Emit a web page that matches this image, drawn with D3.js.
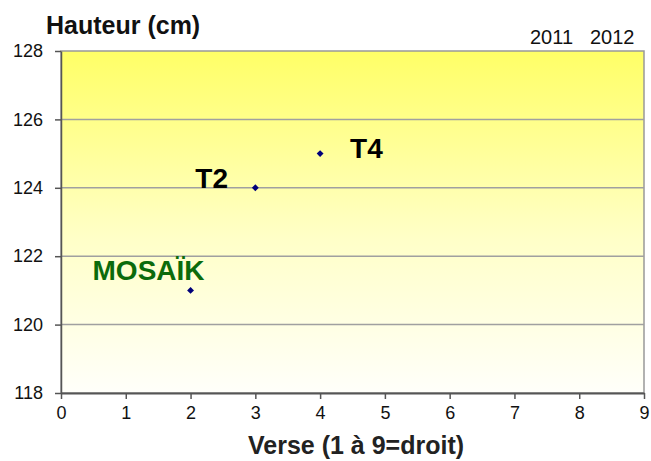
<!DOCTYPE html>
<html>
<head>
<meta charset="utf-8">
<script src="https://cdn.jsdelivr.net/npm/d3@7"></script>
<style>
  body { margin: 0; background: #fff; }
  text { font-family: "Liberation Sans", Arial, sans-serif; }
</style>
</head>
<body>
<svg id="chart"></svg>
<script>
// varieties: verse (lodging score) vs hauteur (height)
const names = ["MOSAÏK", "T2", "T4"];
const verse = [2, 3, 4];
const hauteur = [121, 124, 125];
const labelColors = ["#0b6b0b", "#000", "#000"];
const xTicks = [0, 1, 2, 3, 4, 5, 6, 7, 8, 9];
const yTicks = [118, 120, 122, 124, 126, 128];
const years = ["2011", "2012"];

const width = 651, height = 461;
const plotL = 61, plotR = 644, plotT = 51, plotB = 393;

const svg = d3.select("#chart").attr("width", width).attr("height", height);

const x = d3.scaleLinear().domain([0, 9]).range([plotL, plotR]);
const y = d3.scaleLinear().domain([118, 128]).range([plotB, plotT]);

const grad = svg.append("defs").append("linearGradient")
  .attr("id", "bg").attr("x1", 0).attr("y1", 0).attr("x2", 0).attr("y2", 1);
grad.append("stop").attr("offset", "0%").attr("stop-color", "#ffff66");
grad.append("stop").attr("offset", "55%").attr("stop-color", "#ffffc8");
grad.append("stop").attr("offset", "100%").attr("stop-color", "#fffffa");

svg.append("rect")
  .attr("x", plotL).attr("y", plotT)
  .attr("width", plotR - plotL).attr("height", plotB - plotT)
  .attr("fill", "url(#bg)")
  .attr("stroke", "#999").attr("stroke-width", 1.5);

// grid
svg.append("g").selectAll("line")
  .data(yTicks.slice(1, -1))
  .join("line")
  .attr("x1", plotL).attr("x2", plotR)
  .attr("y1", d => y(d)).attr("y2", d => y(d))
  .attr("stroke", "#a0a0a0").attr("stroke-width", 1.5);

const xAxis = svg.append("g")
  .attr("transform", `translate(0,${plotB})`)
  .call(d3.axisBottom(x).tickValues(xTicks).tickSize(6).tickPadding(7).tickSizeOuter(0));
xAxis.select(".domain").attr("stroke", "#555").attr("stroke-width", 2);
xAxis.selectAll(".tick line").attr("stroke", "#555").attr("stroke-width", 1.5);
xAxis.selectAll("text").attr("font-size", 18).attr("fill", "#111")
  .attr("font-family", "Liberation Sans, Arial, sans-serif");

const yAxis = svg.append("g")
  .attr("transform", `translate(${plotL},0)`)
  .call(d3.axisLeft(y).tickValues(yTicks).tickSize(6).tickPadding(12).tickSizeOuter(0));
yAxis.select(".domain").attr("stroke", "#555").attr("stroke-width", 1.5);
yAxis.selectAll(".tick line").attr("stroke", "#555").attr("stroke-width", 1.5);
yAxis.selectAll("text").attr("font-size", 18).attr("fill", "#111")
  .attr("font-family", "Liberation Sans, Arial, sans-serif");

// points
svg.append("g").selectAll("path")
  .data(verse)
  .join("path")
  .attr("d", d3.symbol(d3.symbolDiamond2, 30))
  .attr("transform", (d, i) => `translate(${x(d)},${y(hauteur[i])})`)
  .attr("fill", "#00007a");

// labels
const labelDx = [-98, -60, 30];
const labelDy = [-10, 0, 4];
svg.append("g").selectAll("text")
  .data(names)
  .join("text")
  .attr("x", (d, i) => x(verse[i]) + labelDx[i])
  .attr("y", (d, i) => y(hauteur[i]) + labelDy[i])
  .attr("font-size", 28).attr("font-weight", "bold")
  .attr("fill", (d, i) => labelColors[i])
  .text(d => d);

svg.append("text")
  .attr("x", 46).attr("y", 34)
  .attr("font-size", 25).attr("font-weight", "bold").attr("fill", "#111")
  .text("Hauteur (cm)");

svg.append("text")
  .attr("x", 356).attr("y", 454).attr("text-anchor", "middle")
  .attr("font-size", 25).attr("font-weight", "bold").attr("fill", "#222")
  .text("Verse (1 à 9=droit)");

svg.append("g").selectAll("text")
  .data(years)
  .join("text")
  .attr("x", (d, i) => 530 + i * 60).attr("y", 44)
  .attr("font-size", 20).attr("fill", "#111")
  .text(d => d);
</script>
</body>
</html>
